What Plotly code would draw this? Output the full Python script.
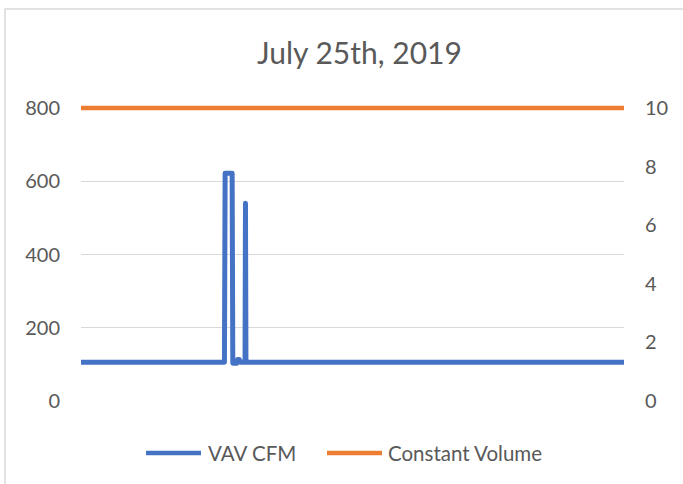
import plotly.graph_objects as go

# ---- data (time of day in hours) ----
vav_hours = [0, 6.34, 6.37, 6.68, 6.71, 6.88, 6.92, 7.00, 7.03, 7.25, 7.27, 7.29, 24]
vav_cfm = [106, 106, 622, 622, 103, 103, 113, 113, 106, 106, 540, 106, 106]
cv_hours = [0, 24]
cv_value = [10, 10]           # plotted on the secondary (right) axis
left_ticks = [0, 200, 400, 600, 800]
right_ticks = [0, 2, 4, 6, 8, 10]
title_text = "July 25th, 2019"
series_names = ["VAV CFM", "Constant Volume"]
colors = ["#4472C4", "#ED7D31"]

W, H = 683, 484
L, R = 81, 624        # plot area x pixels
TOP, BOT = 104, 401   # plot area y pixels
y0_px, y800_px = 401, 108
ymax = 800 * (BOT - TOP) / (y0_px - y800_px)
y2max = 10 * (BOT - TOP) / (y0_px - y800_px)

def px(x):
    return (x - L) / (R - L)

def py(y):
    return (BOT - y) / (BOT - TOP)

FONT = "Lato"
TXT = "#595959"

fig = go.Figure()
fig.add_trace(go.Scatter(x=vav_hours, y=vav_cfm, mode="lines", name=series_names[0],
                         line=dict(color=colors[0], width=5), showlegend=False))
fig.add_trace(go.Scatter(x=cv_hours, y=cv_value, mode="lines", name=series_names[1],
                         yaxis="y2", line=dict(color=colors[1], width=4.5), showlegend=False))

shapes = [
    dict(type="rect", xref="paper", yref="paper", x0=px(5), x1=px(700), y0=py(9), y1=py(500),
         line=dict(color="#D9D9D9", width=1.5), fillcolor="rgba(0,0,0,0)", layer="below"),
]
annotations = [
    dict(text=title_text, xref="paper", yref="paper", x=px(359), y=py(52),
         xanchor="center", yanchor="middle", showarrow=False,
         font=dict(family=FONT, size=30, color=TXT)),
]
leg = [(146, 201, 206), (327, 382, 386)]
for (a, b, t), name, c in zip(leg, series_names, colors):
    shapes.append(dict(type="line", xref="paper", yref="paper", x0=px(a), x1=px(b),
                       y0=py(453), y1=py(453), line=dict(color=c, width=4.5)))
    annotations.append(dict(text=name, xref="paper", yref="paper", x=px(t), y=py(453),
                            xanchor="left", yanchor="middle", showarrow=False,
                            font=dict(family=FONT, size=20.5, color=TXT)))

fig.update_layout(
    width=W, height=H,
    margin=dict(l=L, r=W - R, t=TOP, b=H - BOT, pad=0),
    paper_bgcolor="white", plot_bgcolor="white",
    showlegend=False,
    shapes=shapes, annotations=annotations,
    xaxis=dict(range=[0, 24], showgrid=False, zeroline=False, showticklabels=False,
               showline=False, ticks=""),
    yaxis=dict(range=[0, ymax], tickvals=left_ticks, showgrid=True, gridcolor="#D9D9D9",
               gridwidth=1, zeroline=False, showline=False, ticks="",
               ticklabelstandoff=20,
               tickfont=dict(family=FONT, size=20, color=TXT)),
    yaxis2=dict(range=[0, y2max], tickvals=right_ticks, overlaying="y", side="right",
                showgrid=False, zeroline=False, showline=False, ticks="",
                ticklabelstandoff=20,
                tickfont=dict(family=FONT, size=20, color=TXT)),
)

fig.write_html(
    "out.html",
    config={"displayModeBar": False},
    post_script=(
        "document.body.style.margin='0';document.body.style.overflow='hidden';"
        "document.querySelectorAll('.scatterlayer path.js-line').forEach("
        "function(p){p.style.strokeLinejoin='round';});"
    ),
)
